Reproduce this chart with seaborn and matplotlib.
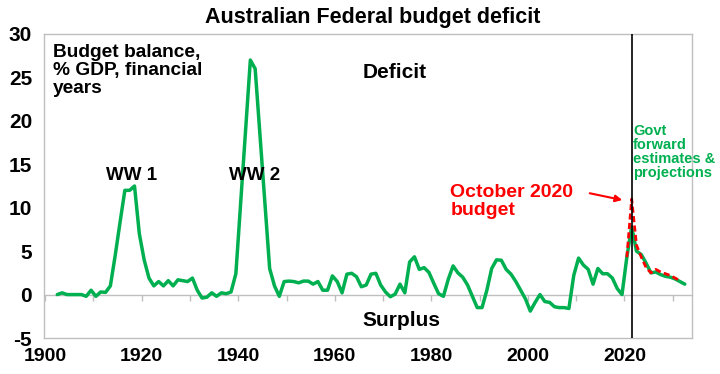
import numpy as np
import pandas as pd
import matplotlib
matplotlib.use("Agg")
import matplotlib.pyplot as plt
import seaborn as sns

# ---- data: budget balance (% GDP), financial years labelled by ending year ----
green_years = list(range(1902, 2033))
green_vals = [
    0.0, 0.2, 0.0, 0.0, 0.0, 0.0, -0.2, 0.5, -0.2, 0.3,          # 1902-1911
    0.25, 1.0, 4.5, 8.3, 12.0, 12.0, 12.5, 7.0, 4.0, 1.9,        # 1912-1921
    1.0, 1.5, 1.0, 1.6, 1.0, 1.7, 1.6, 1.5, 1.9, 0.5,            # 1922-1931
    -0.4, -0.3, 0.2, -0.2, 0.2, 0.1, 0.3, 2.4, 10.6, 18.8,       # 1932-1941
    27.0, 26.0, 18.3, 10.7, 3.0, 1.0, -0.2, 1.5, 1.55, 1.5,      # 1942-1951
    1.35, 1.55, 1.55, 1.2, 1.5, 0.5, 0.5, 2.15, 1.5, 0.2,        # 1952-1961
    2.35, 2.45, 2.05, 0.9, 1.1, 2.35, 2.45, 1.1, 0.3, -0.25,     # 1962-1971
    0.05, 1.2, 0.2, 3.75, 4.35, 2.9, 3.1, 2.55, 1.3, 0.1,        # 1972-1981
    -0.2, 1.75, 3.3, 2.5, 2.0, 1.1, -0.2, -1.5, -1.5, 0.5,       # 1982-1991
    3.0, 4.0, 3.95, 2.9, 2.35, 1.5, 0.5, -0.5, -1.9, -0.9,       # 1992-2001
    0.0, -0.8, -0.9, -1.4, -1.5, -1.5, -1.6, 2.2, 4.2, 3.4,      # 2002-2011
    2.9, 1.2, 3.0, 2.4, 2.4, 1.9, 0.7, 0.0, 4.3, 7.8,            # 2012-2021
    5.0, 4.6, 3.6, 2.5, 2.6, 2.3, 2.1, 2.0, 1.8, 1.5,            # 2022-2031
    1.2,                                                          # 2032
]
red_years = list(range(2020, 2032))
red_vals = [4.3, 11.0, 5.7, 4.3, 3.1, 2.5, 2.9, 2.6, 2.4, 2.2, 1.9, 1.6]

y_ticks = [-5, 0, 5, 10, 15, 20, 25, 30]
x_label_ticks = [1900, 1920, 1940, 1960, 1980, 2000, 2020]
x_minor_ticks = list(range(1900, 2031, 10))

title = "Australian Federal budget deficit"

# ---- styling ----
sns.set_style("white")
plt.rcParams["font.family"] = ["Liberation Sans", "DejaVu Sans"]
plt.rcParams["font.weight"] = "bold"
plt.rcParams["text.color"] = "black"
plt.rcParams["xtick.color"] = "black"
plt.rcParams["ytick.color"] = "black"
plt.rcParams["xtick.labelcolor"] = "black"
plt.rcParams["ytick.labelcolor"] = "black"

GREEN = "#00B050"
RED = "#FF0000"
FRAME = "#BFBFBF"

# financial years are dated at 30 June of their ending year
green_df = pd.DataFrame({"x": np.array(green_years) + 0.5, "val": green_vals})
red_df = pd.DataFrame({"x": np.array(red_years) + 0.5, "val": red_vals})

fig = plt.figure(figsize=(7.2, 3.74), dpi=100)
ax = fig.add_axes([44 / 720, 1 - 338 / 374, 648 / 720, 304 / 374])

sns.lineplot(data=green_df, x="x", y="val", color=GREEN, lw=2.5, ax=ax, zorder=3)
sns.lineplot(data=red_df, x="x", y="val", color=RED, lw=2.0, ax=ax, zorder=4,
             dashes=False, linestyle=(0, (2.2, 1.2)))

ax.set_xlim(1899.75, 2034.0)
ax.set_ylim(-5, 30)

# vertical marker at the peak of the October 2020 budget
peak_x = red_df["x"][red_df["val"].idxmax()]
ax.axvline(peak_x, color="black", lw=1.2, zorder=5)

for s in ax.spines.values():
    s.set_color(FRAME)
    s.set_linewidth(1.0)

ax.set_yticks(y_ticks)
ax.set_yticklabels([str(v) for v in y_ticks])
ax.tick_params(axis="y", direction="out", length=4.5, width=1, color=FRAME,
               labelsize=15, pad=4, labelcolor="black")
ax.set_xticks(x_label_ticks)
ax.set_xticklabels([str(v) for v in x_label_ticks])
ax.tick_params(axis="x", length=0, labelsize=14, pad=7, labelcolor="black")
for lab in ax.get_xticklabels() + ax.get_yticklabels():
    lab.set_fontweight("bold")
ax.set_xlabel("")
ax.set_ylabel("")

# zero line with decade tick marks
ylo, yhi = ax.get_ylim()
sec = ax.secondary_xaxis((0 - ylo) / (yhi - ylo))
sec.set_zorder(1)
sec.set_xticks(x_minor_ticks)
sec.set_xticklabels([])
sec.tick_params(axis="x", direction="out", length=4, width=1, color=FRAME)
for s in sec.spines.values():
    s.set_color(FRAME)
    s.set_linewidth(1.0)

# ---- text ----
fig.text(0.518, 0.952, title, ha="center", va="center", fontsize=15.5,
         fontweight="bold", color="black")

ax.text(0.014, 0.968, "Budget balance,\n% GDP, financial\nyears", transform=ax.transAxes,
        ha="left", va="top", fontsize=13.8, fontweight="bold", linespacing=1.1,
        color="black")
ax.text(0.492, 0.872, "Deficit", transform=ax.transAxes, ha="left", va="center",
        fontsize=15, fontweight="bold", color="black")
ax.text(0.491, 0.059, "Surplus", transform=ax.transAxes, ha="left", va="center",
        fontsize=15, fontweight="bold", color="black")
ax.text(0.135, 0.536, "WW 1", transform=ax.transAxes, ha="center", va="center",
        fontsize=13.5, fontweight="bold", color="black")
ax.text(0.325, 0.536, "WW 2", transform=ax.transAxes, ha="center", va="center",
        fontsize=13.5, fontweight="bold", color="black")
ax.text(0.627, 0.505, "October 2020\nbudget", transform=ax.transAxes, ha="left", va="top",
        fontsize=14, fontweight="bold", color=RED, linespacing=1.05)
ax.annotate("", xy=(0.8966, 0.452), xytext=(0.838, 0.478), xycoords="axes fraction",
            textcoords="axes fraction",
            arrowprops=dict(arrowstyle="-|>", color=RED, lw=1.5, mutation_scale=10))
ax.text(0.909, 0.705, "Govt\nforward\nestimates &\nprojections", transform=ax.transAxes,
        ha="left", va="top", fontsize=10.5, fontweight="bold", color=GREEN, linespacing=1.0)

fig.savefig("out.png", dpi=100)
